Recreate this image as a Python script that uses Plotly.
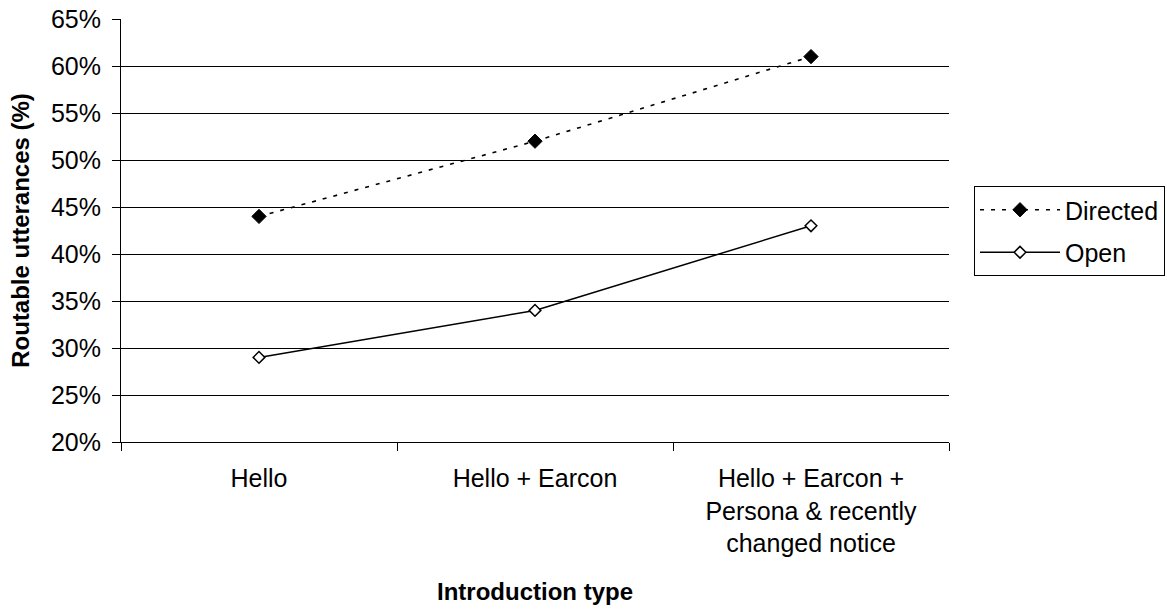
import plotly.graph_objects as go

categories = ["Hello", "Hello + Earcon", "Hello + Earcon +<br>Persona & recently<br>changed notice"]
directed = [0.44, 0.52, 0.61]
open_ = [0.29, 0.34, 0.43]

FONT = "Liberation Sans, Arial, sans-serif"

fig = go.Figure()
fig.add_trace(go.Scatter(
    x=categories, y=directed, name="Directed", mode="lines+markers", legendgroup="d",
    line=dict(color="black", width=1.6, dash="4px,7px"),
    marker=dict(symbol="diamond", size=11, color="black", line=dict(color="black", width=1)),
))
fig.add_trace(go.Scatter(
    x=categories, y=open_, name="Open", mode="lines+markers", legendgroup="o",
    line=dict(color="black", width=1.5),
    marker=dict(symbol="diamond", size=9, color="white", line=dict(color="black", width=1.5)),
))

fig.update_layout(
    width=1167, height=609,
    margin=dict(l=121, r=218, t=19, b=167, autoexpand=False),
    plot_bgcolor="white", paper_bgcolor="white",
    font=dict(family=FONT, size=25, color="black"),
    showlegend=True,
    legend=dict(
        xref="container", yref="container",
        x=974 / 1167, xanchor="left", y=1 - 231 / 609, yanchor="middle",
        bordercolor="black", borderwidth=1, bgcolor="white",
        font=dict(size=25), itemwidth=80, tracegroupgap=7,
        traceorder="grouped",
    ),
    xaxis=dict(
        type="category", range=[-0.5, 2.5], automargin=False,
        showline=True, linecolor="black", linewidth=1,
        ticks="outside", tickson="boundaries", ticklen=8, tickcolor="black",
        ticklabelstandoff=14,
        showgrid=False,
        title=dict(text="<b>Introduction type</b>", font=dict(size=24), standoff=27),
    ),
    yaxis=dict(
        range=[0.2, 0.65], dtick=0.05, tickformat=".0%", automargin=False,
        showline=True, linecolor="black", linewidth=1,
        ticks="outside", ticklen=8, tickcolor="black",
        ticklabelstandoff=6,
        showgrid=True, gridcolor="black", gridwidth=1,
        zeroline=False,
        title=dict(text="<b>Routable utterances (%)</b>", font=dict(size=24), standoff=14),
    ),
)

fig.write_html("out.html")
